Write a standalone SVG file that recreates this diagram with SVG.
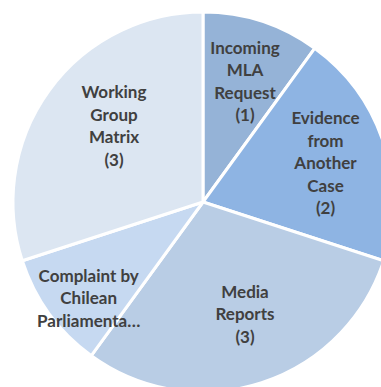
<svg xmlns="http://www.w3.org/2000/svg" width="381" height="387" viewBox="0 0 381 387">
<style>
.slice{stroke:#FFFFFF;stroke-width:3;stroke-linejoin:round}
.lbl{font-family:Lato,"Liberation Sans",sans-serif;font-weight:bold;font-size:17px;fill:#404040;text-anchor:middle}
</style>
<rect width="381" height="387" fill="#FFFFFF"/>
<g id="incoming-mla-request">
<path class="slice" fill="#95B3D7" d="M203,202 L203,12 A190,190 0 0 1 314.68,48.29 Z"/>
<text class="lbl"><tspan x="245" y="53.5">Incoming</tspan><tspan x="245" y="76">MLA</tspan><tspan x="245" y="98.5">Request</tspan><tspan x="245" y="121">(1)</tspan></text>
</g>
<g id="evidence-from-another-case">
<path class="slice" fill="#8EB4E3" d="M203,202 L314.68,48.29 A190,190 0 0 1 383.71,260.71 Z"/>
<text class="lbl"><tspan x="325.5" y="124">Evidence</tspan><tspan x="325.5" y="146.5">from</tspan><tspan x="325.5" y="169">Another</tspan><tspan x="325.5" y="191.5">Case</tspan><tspan x="325.5" y="214">(2)</tspan></text>
</g>
<g id="media-reports">
<path class="slice" fill="#B9CDE5" d="M203,202 L383.71,260.71 A190,190 0 0 1 91.32,355.71 Z"/>
<text class="lbl"><tspan x="245" y="297.5">Media</tspan><tspan x="245" y="320">Reports</tspan><tspan x="245" y="342.5">(3)</tspan></text>
</g>
<g id="complaint-by-chilean-parliamentarians">
<path class="slice" fill="#C6D9F1" d="M203,202 L91.32,355.71 A190,190 0 0 1 22.29,260.71 Z"/>
<text class="lbl"><tspan x="88.7" y="281.5">Complaint by</tspan><tspan x="88.7" y="304">Chilean</tspan><tspan x="88.7" y="326.5">Parliamenta…</tspan></text>
</g>
<g id="working-group-matrix">
<path class="slice" fill="#DCE6F2" d="M203,202 L22.29,260.71 A190,190 0 0 1 203,12 Z"/>
<text class="lbl"><tspan x="114" y="98">Working</tspan><tspan x="114" y="120.5">Group</tspan><tspan x="114" y="143">Matrix</tspan><tspan x="114" y="165.5">(3)</tspan></text>
</g>
<g id="connectors"/>
</svg>
